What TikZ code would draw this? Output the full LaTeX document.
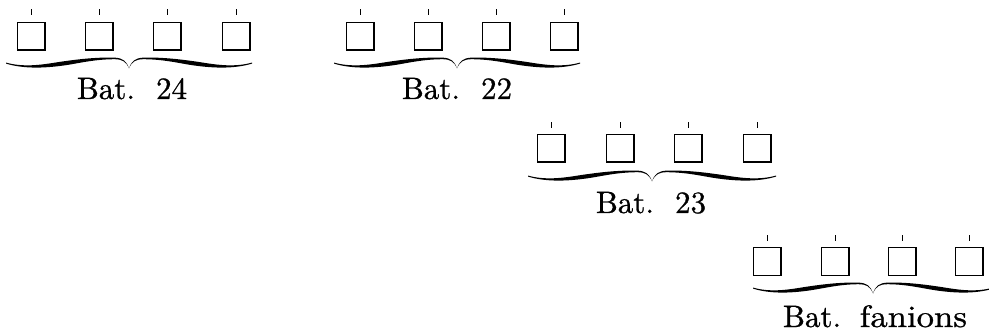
\documentclass[tikz,border=0pt]{standalone}
\usepackage{graphicx}
\usepackage{fontspec}
\newfontfamily\heavyfont{lmroman10-regular.otf}[FakeBold=0.8]
\tikzset{
  boxsq/.style={draw, line width=1.5pt, minimum width=27.5pt, minimum height=27.5pt, inner sep=0pt, anchor=north},
  tickmark/.style={line width=1pt},
  lbl/.style={anchor=base, inner sep=0pt, font=\heavyfont\fontsize{31}{36}\selectfont},
  bracehalf/.pic={
    \fill (0,10.5) .. controls (0.02,3) and (0.05,0) .. (0.12,-0.4)
      .. controls (0.28,-0.8) and (0.42,1.3) .. (0.58,4.2)
      .. controls (0.72,7) and (0.86,9.4) .. (1,4.6)
      -- (1,5.6)
      .. controls (0.86,10.8) and (0.7,10.2) .. (0.55,7.8)
      .. controls (0.42,5.8) and (0.3,1.4) .. (0.12,1.2)
      .. controls (0.06,1.2) and (0.025,3) .. (0,10.5) -- cycle;
  }
}
\newcommand\groupbrace[3]{%
  \pic[xscale=#3] at (#1,#2) {bracehalf};
  \pic[xscale=-#3] at (#1,#2) {bracehalf};
}
\begin{document}
\begin{tikzpicture}[x=1pt,y=-1pt]
\useasboundingbox[fill=white] (0,0) rectangle (989,334);
% group 1 (Bat. 24)
\foreach \i/\x in {1/31,2/99,3/167,4/236} {
  \node[boxsq] (a\i) at (\x,22) {};
  \draw[tickmark] (a\i.north) ++(0,-7) coordinate (ta\i) -- ++(0,-6);
}
\groupbrace{129}{58}{123}
\node[lbl] (la) at (132,99) {Bat.\hspace{0.68em}24};
% group 2 (Bat. 22)
\foreach \i/\x in {1/360,2/428,3/496,4/564} {
  \node[boxsq] (b\i) at (\x,22) {};
  \draw[tickmark] (b\i.north) ++(0,-7) coordinate (tb\i) -- ++(0,-6);
}
\groupbrace{457}{58}{123}
\node[lbl] (lb) at (457,99) {Bat.\hspace{0.68em}22};
% group 3 (Bat. 23)
\foreach \i/\x in {1/551,2/620,3/688,4/757} {
  \node[boxsq] (c\i) at (\x,134) {};
  \draw[tickmark] (c\i.north) ++(0,-6) coordinate (tc\i) -- ++(0,-6);
}
\groupbrace{652}{171}{124}
\node[lbl] (lc) at (651,213) {Bat.\hspace{0.68em}23};
% group 4 (Bat. fanions)
\foreach \i/\x in {1/767,2/835,3/902,4/969} {
  \node[boxsq] (d\i) at (\x,247) {};
  \draw[tickmark] (d\i.north) ++(0,-6) coordinate (td\i) -- ++(0,-6);
}
\groupbrace{873}{283}{120}
\node[lbl] (ld) at (875,327) {Bat.\hspace{0.6em}\scalebox{1.12}[1]{fanions}};
\end{tikzpicture}
\end{document}
